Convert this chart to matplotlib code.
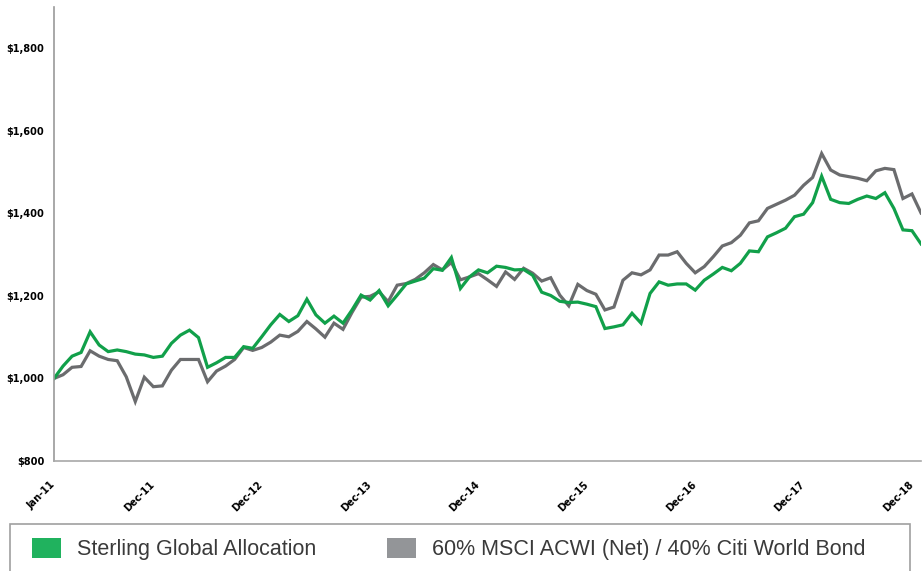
import matplotlib
matplotlib.use("Agg")
import matplotlib.pyplot as plt
import matplotlib.transforms as mtransforms
from matplotlib.patches import Patch, Rectangle

# growth of $1,000, monthly values
sterling = [1000, 1030, 1054, 1063, 1113, 1081, 1065, 1069, 1065, 1059,
            1057, 1051, 1054, 1085, 1105, 1117, 1099, 1027, 1038, 1051,
            1051, 1077, 1073, 1101, 1130, 1155, 1138, 1152, 1192, 1154,
            1134, 1151, 1134, 1166, 1202, 1190, 1213, 1176, 1202, 1229,
            1236, 1243, 1266, 1262, 1293, 1218, 1246, 1263, 1256, 1272,
            1269, 1263, 1264, 1250, 1209, 1201, 1187, 1184, 1185, 1180,
            1174, 1121, 1125, 1130, 1158, 1134, 1206, 1234, 1226, 1229,
            1229, 1214, 1238, 1253, 1269, 1261, 1279, 1309, 1307, 1343,
            1353, 1364, 1392, 1398, 1426, 1490, 1434, 1426, 1424, 1434,
            1442, 1436, 1450, 1412, 1360, 1358, 1326]
benchmark = [1000, 1009, 1027, 1029, 1067, 1054, 1046, 1043, 1004, 944,
             1003, 980, 982, 1020, 1046, 1046, 1046, 992, 1018, 1030,
             1046, 1075, 1068, 1075, 1088, 1105, 1101, 1114, 1138, 1120,
             1100, 1134, 1119, 1160, 1197, 1199, 1210, 1186, 1226, 1230,
             1240, 1256, 1276, 1263, 1281, 1239, 1246, 1254, 1239, 1223,
             1258, 1240, 1267, 1255, 1236, 1244, 1202, 1176, 1228, 1213,
             1204, 1166, 1173, 1238, 1256, 1251, 1263, 1299, 1299, 1307,
             1279, 1256, 1271, 1295, 1321, 1329, 1347, 1377, 1382, 1412,
             1422, 1432, 1444, 1468, 1487, 1545, 1505, 1493, 1489, 1485,
             1479, 1503, 1509, 1506, 1436, 1447, 1401]

tick_pos = [0, 11, 23, 35, 47, 59, 71, 83, 95]
tick_labels = ['Jan-11', 'Dec-11', 'Dec-12', 'Dec-13', 'Dec-14',
               'Dec-15', 'Dec-16', 'Dec-17', 'Dec-18']
y_ticks = [800, 1000, 1200, 1400, 1600, 1800]

series_names = ['Sterling Global Allocation',
                '60% MSCI ACWI (Net) / 40% Citi World Bond']
line_colors = ['#11a04a', '#6b6c6e']
patch_colors = ['#20b25e', '#939598']

tick_font = dict(fontfamily='DejaVu Sans', fontstretch='condensed',
                 fontweight='bold', fontsize=7.8)

fig = plt.figure(figsize=(9.23, 5.71), dpi=100)
ax = fig.add_axes([54 / 923, 1 - 461 / 571, (921 - 54) / 923, (461 - 7) / 571])

x = list(range(len(sterling)))
ax.plot(x, benchmark, color=line_colors[1], lw=2.3, solid_joinstyle='miter')
ax.plot(x, sterling, color=line_colors[0], lw=2.3, solid_joinstyle='miter')

ax.set_xlim(0, len(sterling) - 1)
ax.set_ylim(800, 1900)
ax.set_yticks(y_ticks)
ax.set_yticklabels(['${:,}'.format(v) for v in y_ticks], **tick_font)
ax.set_xticks(tick_pos)
ax.set_xticklabels(tick_labels, rotation=45, ha='right', va='top',
                   rotation_mode='anchor', **tick_font)
ax.tick_params(axis='y', length=0, pad=7)
ax.tick_params(axis='x', length=0, pad=13)
shift = mtransforms.ScaledTranslation(-0.04, 0, fig.dpi_scale_trans)
for lab in ax.get_xticklabels():
    lab.set_transform(lab.get_transform() + shift)

for side in ['top', 'right']:
    ax.spines[side].set_visible(False)
ax.spines['left'].set_color('#9a9a9a')
ax.spines['bottom'].set_color('#a8a8a8')
ax.spines['left'].set_linewidth(1.2)
ax.spines['bottom'].set_linewidth(1.2)

# legend box, cut by the bottom edge of the image
fig.add_artist(Rectangle((10 / 923, -0.02), 900 / 923, (571 - 524) / 571 + 0.02,
                         transform=fig.transFigure, fill=False,
                         edgecolor='#a0a0a0', lw=1.2))

anchors = [32 / 923, 387 / 923]
for name, col, xa in zip(series_names, patch_colors, anchors):
    fig.legend(handles=[Patch(facecolor=col, edgecolor='none')], labels=[name],
               loc='center left', bbox_to_anchor=(xa, 1 - 549 / 571),
               frameon=False, borderpad=0, borderaxespad=0,
               handlelength=1.35, handleheight=1.05, handletextpad=0.75,
               prop={'family': 'Liberation Sans', 'size': 15.5},
               labelcolor='#3a3a3a')

fig.savefig('out.png', dpi=100)
